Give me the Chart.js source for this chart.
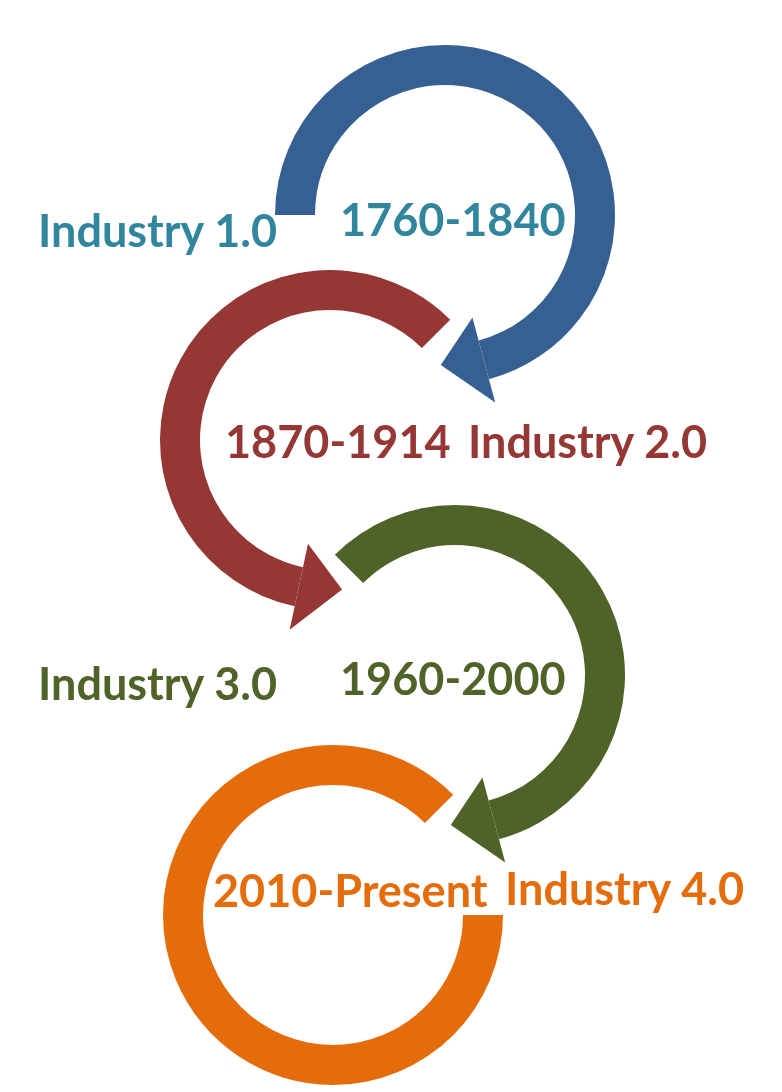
<!DOCTYPE html>
<html>
<head>
<meta charset="utf-8">
<script src="https://cdn.jsdelivr.net/npm/chart.js@4/dist/chart.umd.min.js"></script>
<style>
  body { margin: 0; width: 782px; height: 1092px; background: #fff; position: relative; overflow: hidden; font-family: Lato, "Open Sans", sans-serif; }
  canvas.ring { position: absolute; }
  .lbl { position: absolute; font-weight: bold; font-size: 45px; white-space: nowrap; line-height: 1; }
</style>
</head>
<body>
<canvas class="ring" id="r0"></canvas>
<canvas class="ring" id="r1"></canvas>
<canvas class="ring" id="r2"></canvas>
<canvas class="ring" id="r3"></canvas>
<script>
const stages = ['Industry 1.0', 'Industry 2.0', 'Industry 3.0', 'Industry 4.0'];
const periods = ['1760-1840', '1870-1914', '1960-2000', '2010-Present'];
const ringColors = ['#376092', '#953735', '#4f6228', '#e46c0a'];
const textColors = ['#31859c', '#953735', '#4f6228', '#e46c0a'];
const sweeps = [255, 213, 210, 315];      // degrees of arc drawn
const rotations = [270, 192, 315, 90];    // chart.js start angle (0 = top)
const arrowAt = ['end', 'start', 'end', 'none'];

// layout (centres of rings, label spots)
const centres = [[445, 215], [330, 440], [455, 675], [333, 915]];
const stagePos = [[38, 208], [468, 419], [38, 661], [505, 866]];
const periodPos = [[340, 197], [225, 419], [340, 656], [213, 868]];
const R = 170, pad = 32, size = 2 * (R + pad);

const arrowPlugin = {
  id: 'arrow',
  afterDatasetsDraw(chart, args, opts) {
    if (opts.at === 'none') return;
    const arc = chart.getDatasetMeta(0).data[0];
    const { x, y, startAngle, endAngle, innerRadius, outerRadius } = arc.getProps(['x', 'y', 'startAngle', 'endAngle', 'innerRadius', 'outerRadius'], true);
    const a = opts.at === 'end' ? endAngle : startAngle;
    const d = opts.at === 'end' ? 1 : -1;
    const mid = (innerRadius + outerRadius) / 2;
    const ctx = chart.ctx;
    const p = (ang, r) => [x + Math.cos(ang) * r, y + Math.sin(ang) * r];
    const b1 = p(a, innerRadius - 24), b2 = p(a, outerRadius + 24), t = p(a + d * 0.29, mid);
    ctx.save();
    ctx.fillStyle = opts.color;
    ctx.beginPath();
    ctx.moveTo(...b1); ctx.lineTo(...b2); ctx.lineTo(...t); ctx.closePath();
    ctx.fill();
    ctx.restore();
  }
};

stages.forEach((s, i) => {
  const cv = document.getElementById('r' + i);
  cv.width = size; cv.height = size;
  cv.style.left = (centres[i][0] - size / 2) + 'px';
  cv.style.top = (centres[i][1] - size / 2) + 'px';
  new Chart(cv, {
    type: 'doughnut',
    data: {
      labels: [s, ''],
      datasets: [{
        data: [sweeps[i], 360 - sweeps[i]],
        backgroundColor: [ringColors[i], 'rgba(0,0,0,0)'],
        borderWidth: 0
      }]
    },
    options: {
      responsive: false,
      animation: false,
      events: [],
      cutout: R - 40,
      rotation: rotations[i],
      layout: { padding: pad },
      plugins: {
        legend: { display: false },
        tooltip: { enabled: false },
        arrow: { at: arrowAt[i], color: ringColors[i] }
      }
    },
    plugins: [arrowPlugin]
  });

  [[s, stagePos[i]], [periods[i], periodPos[i]]].forEach(([txt, pos]) => {
    const el = document.createElement('div');
    el.className = 'lbl';
    el.textContent = txt;
    el.style.color = textColors[i];
    el.style.left = pos[0] + 'px';
    el.style.top = pos[1] + 'px';
    document.body.appendChild(el);
  });
});
</script>
</body>
</html>
